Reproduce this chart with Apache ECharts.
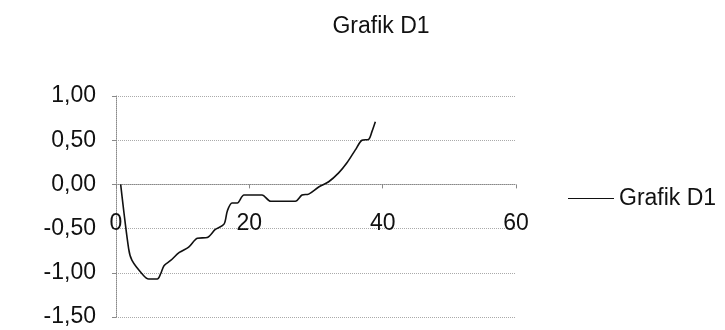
<!DOCTYPE html>
<html>
<head>
<meta charset="utf-8">
<script src="https://cdn.jsdelivr.net/npm/echarts@6/dist/echarts.min.js"></script>
<style>
  html, body { margin: 0; padding: 0; background: #fff; }
  #chart { width: 725px; height: 330px; }
</style>
</head>
<body>
<div id="chart"></div>
<script>
  // data
  const xValues = [0.7, 1.9, 2.4, 3.9, 4.9, 6.2, 6.7, 7.2, 8.2, 9.5, 10.9, 12.2, 13.7, 14.9, 16.2, 16.7, 17.4, 18.2, 19.2, 21.9, 23.2, 26.9, 27.9, 28.9, 30.4, 31.9, 33.4, 34.7, 35.9, 36.9, 37.9, 38.4, 38.9];
  const yValues = [0.00, -0.73, -0.86, -1.01, -1.07, -1.07, -1.01, -0.92, -0.86, -0.77, -0.71, -0.61, -0.60, -0.51, -0.45, -0.30, -0.21, -0.21, -0.12, -0.12, -0.19, -0.19, -0.12, -0.11, -0.03, 0.03, 0.13, 0.25, 0.39, 0.50, 0.51, 0.60, 0.71];
  const seriesName = 'Grafik D1';
  const titleText = 'Grafik D1';

  const points = xValues.map((x, i) => [x, yValues[i]]);
  const font = 'Liberation Sans, Arial, sans-serif';

  const chart = echarts.init(document.getElementById('chart'));
  chart.setOption({
    animation: false,
    title: {
      text: titleText,
      left: 376,
      textAlign: 'center',
      top: 10,
      textStyle: { fontFamily: font, fontSize: 23, fontWeight: 'normal', color: '#111' }
    },
    legend: {
      left: 563,
      top: 182,
      icon: 'rect',
      itemWidth: 46,
      itemHeight: 1,
      itemGap: 6,
      textStyle: { fontFamily: font, fontSize: 23, color: '#111' },
      data: [seriesName]
    },
    grid: { left: 116, right: 209, top: 96, bottom: 13, containLabel: false, outerBoundsMode: 'none' },
    xAxis: [{
      // axis line drawn through y = 0
      type: 'value',
      min: 0,
      max: 60,
      interval: 20,
      axisLine: { onZero: true, lineStyle: { color: '#888', type: 'dotted', width: 1 } },
      axisTick: { show: true, length: 4, lineStyle: { color: '#888' } },
      axisLabel: { show: false },
      splitLine: { show: false }
    }, {
      // tick labels only, shifted up next to the zero line
      type: 'value',
      min: 0,
      max: 60,
      interval: 20,
      position: 'bottom',
      offset: -128,
      axisLine: { show: false, onZero: false },
      axisTick: { show: false },
      axisLabel: { margin: 23, fontFamily: font, fontSize: 23, color: '#111', showMinLabel: true, showMaxLabel: true },
      splitLine: { show: false }
    }],
    yAxis: {
      type: 'value',
      min: -1.5,
      max: 1,
      interval: 0.5,
      axisLine: { show: true, lineStyle: { color: '#888', type: 'dotted', width: 1 } },
      axisTick: { show: true, length: 4, lineStyle: { color: '#888' } },
      axisLabel: {
        margin: 20,
        fontFamily: font,
        fontSize: 23,
        color: '#111',
        formatter: v => v.toFixed(2).replace('.', ',')
      },
      splitLine: { show: true, lineStyle: { color: '#aaa', type: 'dotted', width: 1 } }
    },
    series: [{
      name: seriesName,
      type: 'line',
      xAxisIndex: 0,
      data: points,
      smooth: 0.3,
      showSymbol: false,
      lineStyle: { color: '#111', width: 1.6 },
      itemStyle: { color: '#111' }
    }]
  });
</script>
</body>
</html>
